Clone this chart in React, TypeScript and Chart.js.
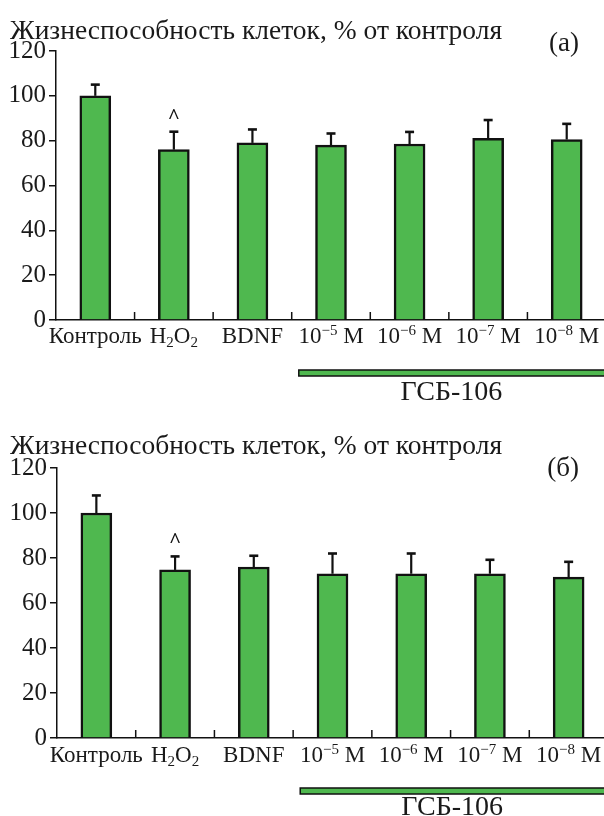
import React, { useEffect, useRef } from "react";
import { Chart, registerables } from "chart.js";

Chart.register(...registerables);

const categories = ["Контроль", "H₂O₂", "BDNF", "10⁻⁵ М", "10⁻⁶ М", "10⁻⁷ М", "10⁻⁸ М"];
const valuesA = [100, 76, 79, 78, 78.5, 81, 80.5];
const errorsA = [5, 8, 6, 5.2, 5.4, 8.2, 7];
const valuesB = [100, 74.7, 76, 73, 73, 73, 71.5];
const errorsB = [7.8, 6, 5, 9, 9, 6.2, 6.8];
const marks = ["", "^", "", "", "", "", ""];
const yTicks = [0, 20, 40, 60, 80, 100, 120];
const titleText = "Жизнеспособность клеток, % от контроля";
const panelLabels = ["(а)", "(б)"];
const groupLabel = "ГСБ-106";
const groupStart = 2.59;

const SERIF = "'Liberation Serif', 'DejaVu Serif', serif";
const GREEN = "#4FB84F";
const INK = "#111";
const TEXT = "#1a1a1a";

const SUP: Record<string, string> = { "⁻": "−", "⁰": "0", "¹": "1", "²": "2", "³": "3", "⁴": "4", "⁵": "5", "⁶": "6", "⁷": "7", "⁸": "8", "⁹": "9" };
const SUB: Record<string, string> = { "₀": "0", "₁": "1", "₂": "2", "₃": "3" };

type Seg = { t: string; k: "n" | "sup" | "sub" };
function parseLabel(s: string): Seg[] {
  const out: Seg[] = [];
  for (const ch of s) {
    let k: Seg["k"] = "n";
    let t = ch;
    if (SUP[ch]) { k = "sup"; t = SUP[ch]; }
    else if (SUB[ch]) { k = "sub"; t = SUB[ch]; }
    const last = out[out.length - 1];
    if (last && last.k === k) last.t += t;
    else out.push({ t, k });
  }
  return out;
}

type Geo = {
  width: number; height: number; left: number; right: number; top: number; bottom: number;
  titleBase: number; panelBase: number; labelOff: number; groupTextOff: number;
};

function drawRich(ctx: CanvasRenderingContext2D, s: string, cx: number, base: number) {
  const segs = parseLabel(s);
  const big = `23px ${SERIF}`;
  const small = `15px ${SERIF}`;
  let total = 0;
  const widths = segs.map((g) => {
    ctx.font = g.k === "n" ? big : small;
    const w = ctx.measureText(g.t).width;
    total += w;
    return w;
  });
  let x = cx - total / 2;
  segs.forEach((g, i) => {
    ctx.font = g.k === "n" ? big : small;
    const dy = g.k === "sup" ? -8 : g.k === "sub" ? 4 : 0;
    ctx.fillText(g.t, x, base + dy);
    x += widths[i];
  });
}

function makeOverlay(values: number[], errors: number[], panel: string, geo: Geo) {
  return {
    id: "overlay",
    afterDatasetsDraw(chart: any) {
      const ctx: CanvasRenderingContext2D = chart.ctx;
      const xs = chart.scales.x;
      const ys = chart.scales.y;
      const area = chart.chartArea;
      ctx.save();
      ctx.strokeStyle = INK;
      ctx.fillStyle = INK;
      // error bars
      values.forEach((v, i) => {
        const x = xs.getPixelForValue(i);
        const y1 = ys.getPixelForValue(v);
        const y2 = ys.getPixelForValue(v + errors[i]);
        ctx.lineWidth = 2.2;
        ctx.beginPath();
        ctx.moveTo(x, y1);
        ctx.lineTo(x, y2);
        ctx.stroke();
        ctx.lineWidth = 2.6;
        ctx.beginPath();
        ctx.moveTo(x - 4.5, y2);
        ctx.lineTo(x + 4.5, y2);
        ctx.stroke();
        if (marks[i]) {
          ctx.font = `bold 21px ${SERIF}`;
          ctx.textAlign = "center";
          ctx.textBaseline = "alphabetic";
          ctx.fillText(marks[i], x, y2 - 9);
        }
      });
      // separators between categories
      ctx.lineWidth = 1.5;
      for (let i = 0; i < values.length - 1; i++) {
        const x = (xs.getPixelForValue(i) + xs.getPixelForValue(i + 1)) / 2;
        ctx.beginPath();
        ctx.moveTo(x, area.bottom);
        ctx.lineTo(x, area.bottom - 8);
        ctx.stroke();
      }
      // category labels
      ctx.fillStyle = TEXT;
      ctx.textAlign = "left";
      ctx.textBaseline = "alphabetic";
      categories.forEach((c, i) => {
        drawRich(ctx, c, xs.getPixelForValue(i), area.bottom + geo.labelOff);
      });
      // title and panel label
      ctx.font = `27.5px ${SERIF}`;
      ctx.textAlign = "left";
      ctx.fillText(titleText, 10, geo.titleBase);
      ctx.font = `27px ${SERIF}`;
      ctx.textAlign = "right";
      ctx.fillText(panel, 579, geo.panelBase);
      // group bar
      const gx = xs.getPixelForValue(groupStart);
      const gr = area.right + 4;
      const gy = area.bottom + 50;
      ctx.fillStyle = GREEN;
      ctx.fillRect(gx, gy, gr - gx, 6);
      ctx.strokeStyle = INK;
      ctx.lineWidth = 1.5;
      ctx.strokeRect(gx, gy, gr - gx, 6);
      ctx.fillStyle = TEXT;
      ctx.font = `28px ${SERIF}`;
      ctx.textAlign = "center";
      ctx.fillText(groupLabel, (gx + 604) / 2, area.bottom + geo.groupTextOff);
      ctx.restore();
    },
  };
}

function BarPanel({ values, errors, panel, geo, top }: { values: number[]; errors: number[]; panel: string; geo: Geo; top: number }) {
  const ref = useRef<HTMLCanvasElement | null>(null);
  useEffect(() => {
    if (!ref.current) return;
    const chart = new Chart(ref.current, {
      type: "bar",
      data: {
        labels: categories,
        datasets: [
          {
            data: values,
            backgroundColor: GREEN,
            borderColor: INK,
            borderWidth: 2.5,
            barThickness: 31,
          },
        ],
      },
      options: {
        responsive: false,
        animation: false,
        layout: { padding: { top: geo.top, right: geo.width - geo.right, left: 0, bottom: 0 } },
        plugins: { legend: { display: false }, tooltip: { enabled: false }, title: { display: false } },
        scales: {
          x: {
            grid: { display: false, drawTicks: false },
            border: { display: true, color: INK, width: 1.5 },
            ticks: { display: false },
            afterFit: (s: any) => { s.height = geo.height - geo.bottom; },
          },
          y: {
            min: 0,
            max: 120,
            afterBuildTicks: (s: any) => { s.ticks = yTicks.map((v) => ({ value: v })); },
            ticks: { font: { family: SERIF, size: 25 }, color: TEXT, padding: 3 },
            grid: { drawOnChartArea: false, drawTicks: true, tickLength: 7, color: INK, lineWidth: 1.5 },
            border: { display: true, color: INK, width: 1.5 },
            afterFit: (s: any) => { s.width = geo.left; },
          },
        },
      } as any,
      plugins: [makeOverlay(values, errors, panel, geo)],
    });
    return () => chart.destroy();
  }, []);
  return (
    <canvas
      ref={ref}
      width={geo.width}
      height={geo.height}
      style={{ position: "absolute", left: 0, top, width: geo.width, height: geo.height, display: "block" }}
    />
  );
}

const geoA: Geo = { width: 612, height: 416, left: 56, right: 606, top: 51, bottom: 320, titleBase: 39, panelBase: 51, labelOff: 23, groupTextOff: 80 };
const geoB: Geo = { width: 612, height: 400, left: 57, right: 608, top: 52, bottom: 322, titleBase: 38, panelBase: 60, labelOff: 24, groupTextOff: 77 };

export default function App() {
  return (
    <div style={{ position: "fixed", left: 0, top: 0, width: 604, height: 816, overflow: "hidden", background: "#fff" }}>
      <BarPanel values={valuesA} errors={errorsA} panel={panelLabels[0]} geo={geoA} top={0} />
      <BarPanel values={valuesB} errors={errorsB} panel={panelLabels[1]} geo={geoB} top={416} />
    </div>
  );
}
